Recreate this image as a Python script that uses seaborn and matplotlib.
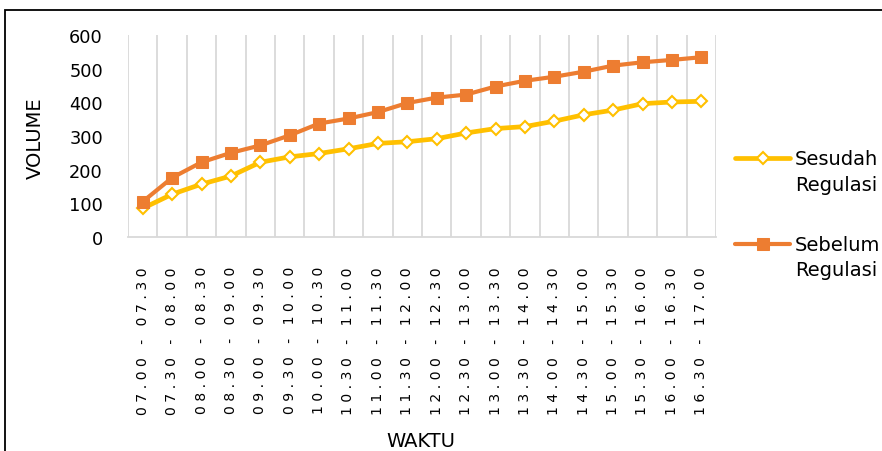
import numpy as np
import pandas as pd
import matplotlib
matplotlib.use("Agg")
import matplotlib.pyplot as plt
from matplotlib.patches import Rectangle
import seaborn as sns

# Time intervals (half-hour slots)
waktu = ["07.00 - 07.30", "07.30 - 08.00", "08.00 - 08.30", "08.30 - 09.00",
         "09.00 - 09.30", "09.30 - 10.00", "10.00 - 10.30", "10.30 - 11.00",
         "11.00 - 11.30", "11.30 - 12.00", "12.00 - 12.30", "12.30 - 13.00",
         "13.00 - 13.30", "13.30 - 14.00", "14.00 - 14.30", "14.30 - 15.00",
         "15.00 - 15.30", "15.30 - 16.00", "16.00 - 16.30", "16.30 - 17.00"]

# Cumulative traffic volume
sesudah = [85, 127, 157, 181, 222, 238, 248, 262, 278, 283,
           292, 309, 322, 328, 344, 363, 377, 396, 401, 403]
sebelum = [105, 176, 222, 250, 272, 302, 337, 352, 371, 398,
           414, 423, 447, 464, 476, 491, 509, 519, 526, 534]

label_sesudah = "Sesudah\nRegulasi"
label_sebelum = "Sebelum\nRegulasi"
yticks = [0, 100, 200, 300, 400, 500, 600]

c_yellow = "#FFC000"
c_orange = "#ED7D31"
c_grid = "#D9D9D9"

df = pd.DataFrame({
    "waktu": waktu * 2,
    "volume": sesudah + sebelum,
    "seri": [label_sesudah] * len(waktu) + [label_sebelum] * len(waktu),
})
df["pos"] = list(range(len(waktu))) * 2

sns.set_theme(style="white")
plt.rcParams["font.family"] = ["DejaVu Sans"]
plt.rcParams["text.color"] = "black"

fig = plt.figure(figsize=(8.82, 4.52), dpi=100)
ax = fig.add_axes([128 / 882, 1 - 238 / 452, (716 - 128) / 882, (238 - 36) / 452])

sns.lineplot(data=df[df["seri"] == label_sesudah], x="pos", y="volume",
             color=c_yellow, linewidth=3.4, marker="D", markersize=6.5,
             markerfacecolor="white", markeredgecolor=c_yellow,
             markeredgewidth=1.5, label=label_sesudah, ax=ax, zorder=3)
sns.lineplot(data=df[df["seri"] == label_sebelum], x="pos", y="volume",
             color=c_orange, linewidth=3.0, marker="s", markersize=9,
             markerfacecolor=c_orange, markeredgecolor=c_orange,
             label=label_sebelum, ax=ax, zorder=4)

ax.set_xlim(-0.5, len(waktu) - 0.5)
ax.set_ylim(0, 600)
ax.set_yticks(yticks)
ax.set_yticklabels([str(v) for v in yticks], fontsize=12.8, color="black")


def spaced(s):
    """Widen the character spacing of a tick label."""
    return " ".join(s)


ax.set_xticks(range(len(waktu)))
ax.set_xticklabels([spaced(w) for w in waktu], rotation=90, fontsize=10.1,
                   color="black", va="top")
ax.set_xticks(np.arange(len(waktu) + 1) - 0.5, minor=True)
ax.grid(False)
ax.grid(which="minor", axis="x", color=c_grid, linewidth=1.3)
ax.tick_params(axis="both", which="both", length=0)
ax.tick_params(axis="x", which="major", pad=21)
ax.tick_params(axis="y", pad=18)
for side in ["top", "right", "left"]:
    ax.spines[side].set_visible(False)
ax.spines["bottom"].set_color(c_grid)
ax.spines["bottom"].set_linewidth(1.3)
ax.set_xlabel("")
ax.set_ylabel("")

fig.text(421 / 882, 1 - 442 / 452, "WAKTU", ha="center", va="center",
         fontsize=14, color="black")
fig.text(35 / 882, 1 - 138 / 452, "VOLUME", ha="center", va="center",
         rotation=90, fontsize=14, color="black")

leg = ax.legend(loc="upper left", bbox_to_anchor=(735 / 882, 1 - 150 / 452),
                bbox_transform=fig.transFigure, frameon=False, fontsize=14,
                handlelength=2.83, handletextpad=0.26, borderpad=0,
                borderaxespad=0, labelspacing=2.1)
for t in leg.get_texts():
    t.set_linespacing(1.45)
    t.set_color("black")
# put each legend line beside the first line of its two-line label
for h in leg.legend_handles:
    h.set_ydata(np.asarray(h.get_ydata()) + 10.0)

# frame around the whole chart
fig.patches.append(Rectangle((5 / 882, -0.1), 1.2, 1 - 11 / 452 + 0.1,
                             transform=fig.transFigure, fill=False,
                             edgecolor="black", linewidth=1.3))

fig.savefig("out.png", dpi=100)
